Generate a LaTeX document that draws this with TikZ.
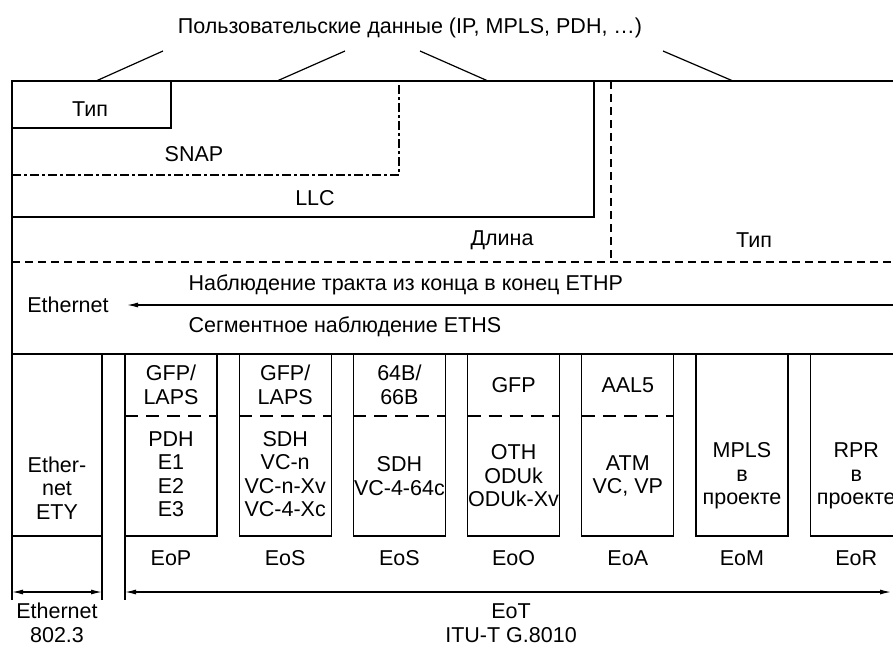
\documentclass[tikz,border=0pt]{standalone}
\usepackage{fontspec}
\setmainfont{Liberation Sans}
\usetikzlibrary{arrows.meta}
\begin{document}
\begin{tikzpicture}[x=1pt, y=-1pt, line width=1.2pt, every node/.style={font=\fontsize{21.5}{23.5}\selectfont, inner sep=0pt, align=center}]
		\tikzstyle{sep}=[dash pattern=on 8pt off 5pt]
		\tikzstyle{snap}=[dash pattern=on 9pt off 3pt on 3pt off 3pt]
		\tikzstyle{cut}=[line width=1.8pt, dash pattern=on 13pt off 8pt]
		\tikzstyle{arr}=[{Latex[length=11pt,width=5pt]}-{Latex[length=11pt,width=5pt]}]
		\useasboundingbox (0,0) rectangle (893,646);
		\clip (0,0) rectangle (893,646);
		% user data on top
		\node(data)at(410,28){Пользовательские данные (IP, MPLS, PDH, \dots)};
		\coordinate(t1)at(96,81); \coordinate(u1)at(163,51);
		\coordinate(t2)at(277,81); \coordinate(u2)at(345,51);
		\coordinate(t3)at(488,81); \coordinate(u3)at(420,51);
		\coordinate(t4)at(733,81); \coordinate(u4)at(663,51);
		\draw (t1) -- (u1);
		\draw (t2) -- (u2);
		\draw (t3) -- (u3);
		\draw (t4) -- (u4);
		% upper layer
		\draw[]{
			(905,81) -- (12,81) -- (12,600)
		};
		\draw[]{
			(12,128) -- (171,128) -- (171,81)
		};
		\draw[snap]{
			(12,175) -- (399,175) -- (399,81)
		};
		\draw[]{
			(12,217) -- (594,217) -- (594,81)
		};
		\draw[sep]{
			(611,81) -- (611,262)
		};
		\draw[sep]{
			(12,262) -- (905,262)
		};
		\draw[]{
			(12,354) -- (905,354)
		};
		\node(typ1)at(90,109){Тип};
		\node(snap)at(194,154){SNAP};
		\node(llc)at(315,198){LLC};
		\node(len)at(502,240){Длина};
		\node(typ2)at(754,240){Тип};
		% Ethernet layer
		\node(eth)at(68,305){Ethernet};
		\coordinate(ee)at(905,305);
		\coordinate(ea)at(127,305);
		\draw[-{Latex[length=11pt,width=5pt]}] (ee) -- (ea);
		\node[anchor=west](ethp)at(188,285){Наблюдение тракта из конца в конец ETHP};
		\node[anchor=west](eths)at(188,327){Сегментное наблюдение ETHS};
		% transport layer
		\draw[]{
			(102,354) -- (102,600)
		};
		\draw[]{
			(125,354) -- (125,600)
		};
		\draw[]{
			(12,536) -- (102,536)
		};
		\node(ety)at(57,488){Ether-\\net\\ETY};
		\draw (125,354) rectangle (217,536);
		\draw (239.2,354) rectangle (331.2,536);
		\draw (353.4,354) rectangle (445.4,536);
		\draw (467.6,354) rectangle (559.6,536);
		\draw (581.8,354) rectangle (673.8,536);
		\draw (696,354) rectangle (788,536);
		\draw (810.2,354) rectangle (902.2,536);
		\draw[cut] (125,416) -- (217,416);
		\draw[cut] (239.2,416) -- (331.2,416);
		\draw[cut] (353.4,416) -- (445.4,416);
		\draw[cut] (467.6,416) -- (559.6,416);
		\draw[cut] (581.8,416) -- (673.8,416);
		\node(a1)at(171,385){GFP/\\LAPS};
		\node(a2)at(285.2,385){GFP/\\LAPS};
		\node(a3)at(399.4,385){64B/\\66B};
		\node(a4)at(513.6,385){GFP};
		\node(a5)at(627.8,385){AAL5};
		\node(b1)at(171,474){PDH\\E1\\E2\\E3};
		\node(b2)at(285.2,474){SDH\\VC-n\\VC-n-Xv\\VC-4-Xc};
		\node(b3)at(399.4,476){SDH\\VC-4-64c};
		\node(b4)at(513.6,476){OTH\\ODUk\\ODUk-Xv};
		\node(b5)at(627.8,476){ATM\\VC, VP};
		\node(b6)at(742,476){MPLS\\в\\проекте};
		\node(b7)at(856.2,476){RPR\\в\\проекте};
		\node(eop)at(171,558){EoP};
		\node(eos1)at(285.2,558){EoS};
		\node(eos2)at(399.4,558){EoS};
		\node(eoo)at(513.6,558){EoO};
		\node(eoa)at(627.8,558){EoA};
		\node(eom)at(742,558){EoM};
		\node(eor)at(856.2,558){EoR};
		% extents
		\coordinate(l1)at(12,592); \coordinate(r1)at(102,592);
		\coordinate(l2)at(125,592); \coordinate(r2)at(891,592);
		\draw[arr] (l1) -- (r1);
		\draw[arr] (l2) -- (r2);
		\node(e8023)at(57,623){Ethernet\\802.3};
		\node(eot)at(511,623){EoT\\ITU-T G.8010};
\end{tikzpicture}
\end{document}
